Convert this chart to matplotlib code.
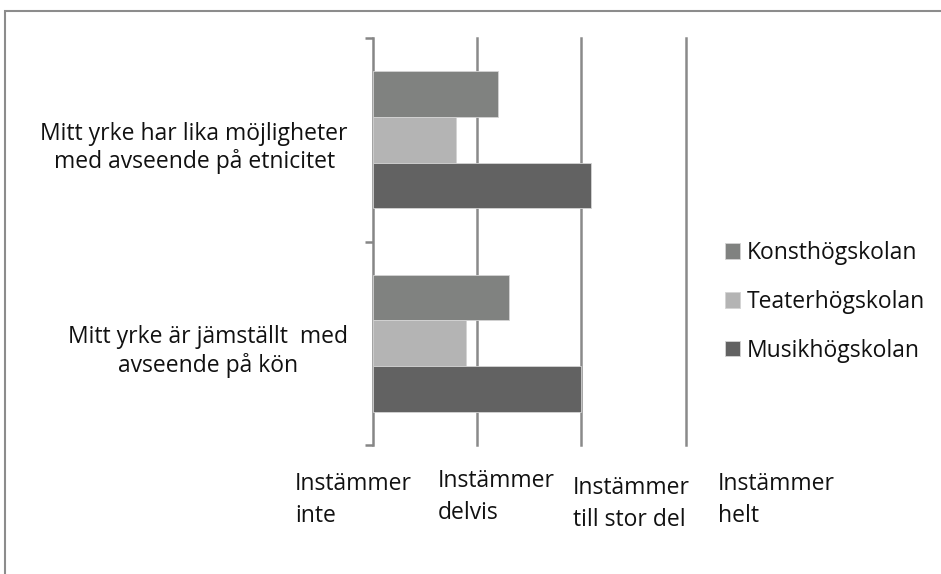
import matplotlib.pyplot as plt
import matplotlib.transforms as mtransforms
import numpy as np
from matplotlib.patches import Rectangle

plt.rcParams['font.family'] = ['Open Sans', 'DejaVu Sans']

# data
questions = ['Mitt yrke är jämställt  med\navseende på kön',
             'Mitt yrke har lika möjligheter\nmed avseende på etnicitet']
schools = ['Konsthögskolan', 'Teaterhögskolan', 'Musikhögskolan']
konst = [2.30, 2.20]
teater = [1.89, 1.80]
musik = [3.00, 3.09]
scale_labels = ['Instämmer\ninte', 'Instämmer\ndelvis', 'Instämmer\ntill stor del', 'Instämmer\nhelt']

colors = ['#808280', '#b4b4b4', '#626262']
fs = 16.5

fig = plt.figure(figsize=(9.41, 5.74), dpi=100)
ax = fig.add_axes([373/941, 1-445/574, (685.7-373)/941, (445-38)/574])

y = np.arange(len(questions))
h = 0.224
for i, (vals, name) in enumerate(zip([konst, teater, musik], schools)):
    # first series on top within each group
    ax.barh(y + (1-i)*h, np.array(vals)-1, left=1, height=h, color=colors[i],
            edgecolor='#d4d4d4', linewidth=0.6, label=name, zorder=3)

ax.set_xlim(1, 4)
ax.set_ylim(-0.5, 1.5)
for xv in [2, 3, 4]:
    ax.axvline(xv, color='#8a8a8a', lw=1.8, zorder=1, clip_on=False)

for s in ['top', 'right', 'bottom']:
    ax.spines[s].set_visible(False)
ax.spines['left'].set_color('#868686')
ax.spines['left'].set_linewidth(1.8)

ax.set_yticks(y)
ax.set_yticklabels(questions, fontsize=fs, color='#111111', ha='right',
                   multialignment='center', linespacing=1.18)
ax.set_yticks([-0.5, 0.5, 1.5], minor=True)
ax.tick_params(axis='y', which='major', length=0, pad=18)
ax.tick_params(axis='y', which='minor', length=6, width=1.8, color='#868686')
ax.set_xticks([])
# labels sit a little below the category centre in the original
shift = mtransforms.ScaledTranslation(0, -2.5/72, fig.dpi_scale_trans)
for lab in ax.get_yticklabels():
    lab.set_transform(lab.get_transform() + shift)

# scale labels under the axis (placed like the text boxes in the original)
label_x = [295, 438, 573, 718]
label_y = [472, 469, 476, 472]
for lx, ly, t in zip(label_x, label_y, scale_labels):
    fig.text(lx/941, 1-ly/574, t, fontsize=fs, color='#111111', ha='left', va='top', linespacing=1.42)

leg = fig.legend(loc='upper left', bbox_to_anchor=(716/941, 1-232/574), frameon=False,
                 fontsize=fs, handlelength=0.65, handleheight=0.65, handletextpad=0.3,
                 labelspacing=1.08, borderaxespad=0)
for t in leg.get_texts():
    t.set_color('#111111')

# outer chart border
fig.patches.append(Rectangle((5/941, -0.2), 2, 1.2-10.5/574, transform=fig.transFigure,
                             fill=False, edgecolor='#8c8c8c', lw=1.5, clip_on=False))

plt.savefig('out.png', dpi=100)
